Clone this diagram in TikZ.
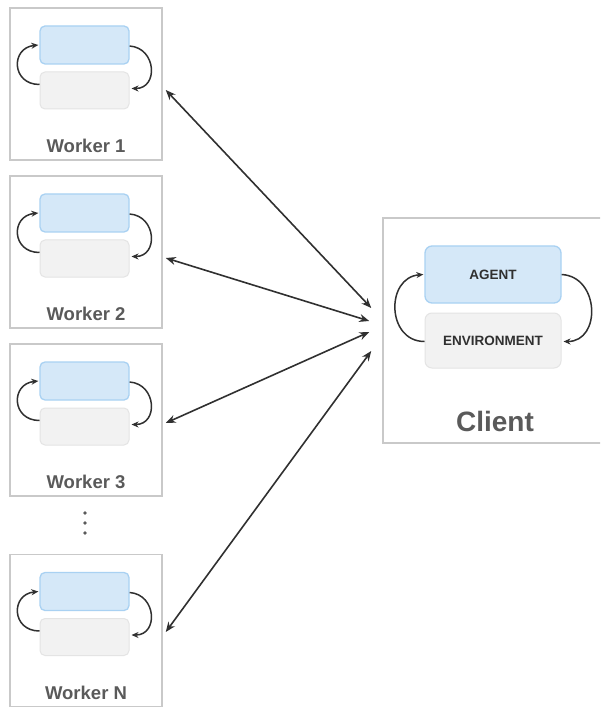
\documentclass[tikz,border=0pt]{standalone}
\usepackage{fontspec}
\setmainfont{Liberation Sans}
\usetikzlibrary{calc,arrows.meta}
\definecolor{boxline}{HTML}{C9C9C9}
\definecolor{bluefill}{HTML}{D5E8F8}
\definecolor{blueline}{HTML}{A9D1F2}
\definecolor{grayfill}{HTML}{F2F2F2}
\definecolor{grayline}{HTML}{E4E4E4}
\definecolor{labelgray}{HTML}{5A5A5A}
\definecolor{arrowdark}{HTML}{303030}
\tikzset{
  outerbox/.style={draw=boxline, line width=1.5pt, fill=white, inner sep=0pt},
  agentbox/.style={draw=blueline, fill=bluefill, line width=1.3pt, rounded corners=5pt, inner sep=0pt},
  envbox/.style={draw=grayline, fill=grayfill, line width=1pt, rounded corners=5pt, inner sep=0pt},
  worklabel/.style={text=labelgray, font=\fontsize{18.5}{20}\selectfont\bfseries},
  loopline/.style={draw=arrowdark, line width=1.5pt, -{Stealth[length=7pt,width=6pt]}},
  link/.style={draw=arrowdark, line width=1.6pt, {Stealth[length=10pt,width=8pt]}-{Stealth[length=10pt,width=8pt]}},
  smalltext/.style={text=arrowdark, font=\fontsize{13.5}{15}\selectfont\bfseries},
}
\begin{document}
\begin{tikzpicture}[x=1pt,y=-1pt]
\useasboundingbox (0,0) rectangle (600,708);
\begin{scope}
\clip (0,0) rectangle (600,708);
% workers
\foreach \name/\yc/\lab in {w1/84/Worker 1, w2/252/Worker 2, w3/420/Worker 3, wN/630.5/Worker N}{
  \node[outerbox, minimum width=152pt, minimum height=152pt] (\name) at (86,\yc) {};
  \node[agentbox, minimum width=89pt, minimum height=38pt] (\name a) at (84.5,\yc-39) {};
  \node[envbox, minimum width=89pt, minimum height=37pt] (\name e) at (84.5,\yc+6.5) {};
  \node[worklabel] (\name l) at (86,\yc+62) {\lab};
  \draw[loopline] ($(\name e.west)+(0,-6)$) .. controls +(-28,0) and +(-28,3) .. ($(\name a.west)+(-1,0)$);
  \draw[loopline] ($(\name a.east)+(0,1)$) .. controls +(27,2) and +(27,0) .. ($(\name e.east)+(2,-2)$);
}
% dots
\foreach \i/\yy in {1/513,2/523,3/533}{
  \fill[labelgray] (85,\yy) circle (1.9pt);
}
% client
\node[outerbox, minimum width=240pt, minimum height=225pt] (cl) at (503,330.5) {};
\node[agentbox, rounded corners=7pt, minimum width=136pt, minimum height=57pt, smalltext] (ca) at (493,274.5) {AGENT};
\node[envbox, rounded corners=7pt, minimum width=136pt, minimum height=55pt, smalltext] (ce) at (493,340.5) {ENVIRONMENT};
\node[text=labelgray, font=\fontsize{28}{31}\selectfont\bfseries] (cll) at (495,421) {Client};
\draw[loopline] ($(ce.west)+(0,1)$) .. controls +(-38,0) and +(-38,3) .. ($(ca.west)+(-1,0)$);
\draw[loopline] ($(ca.east)+(0,0)$) .. controls +(38,2) and +(38,0) .. ($(ce.east)+(2,1)$);
% links
\coordinate (t1) at ($(cl.west)+(-11,-22.5)$);
\coordinate (t2) at ($(cl.west)+(-13,-9.5)$);
\coordinate (t3) at ($(cl.west)+(-13,1.5)$);
\coordinate (t4) at ($(cl.west)+(-11,20.5)$);
\draw[link] ($(w1.east)+(3,6)$) -- (t1);
\draw[link] ($(w2.east)+(3,6)$) -- (t2);
\draw[link] ($(w3.east)+(3,3)$) -- (t3);
\draw[link] ($(wN.east)+(3,1.5)$) -- (t4);
\end{scope}
\end{tikzpicture}
\end{document}
